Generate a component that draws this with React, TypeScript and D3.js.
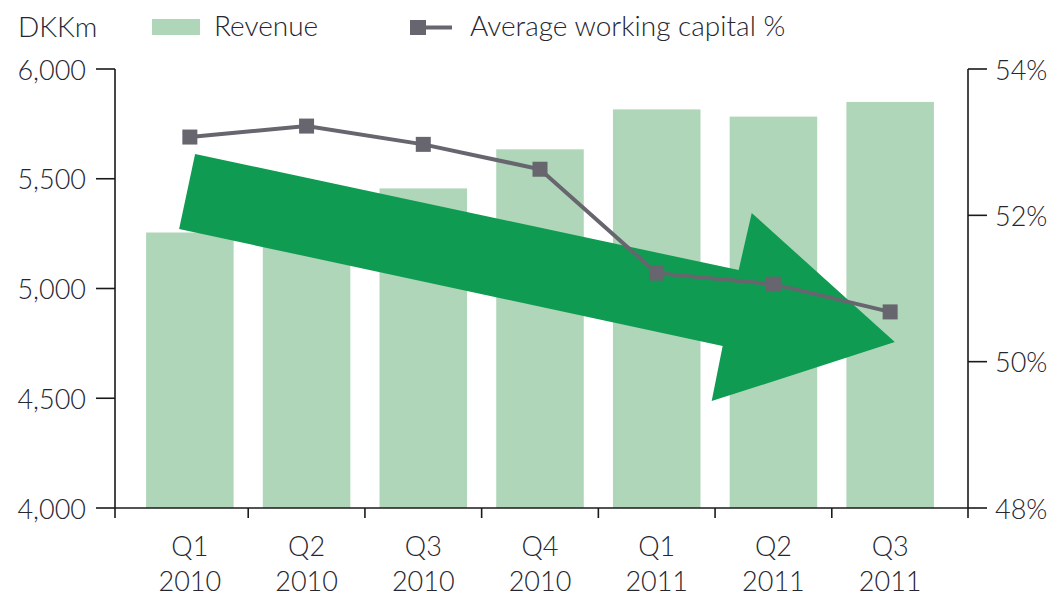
import React from "react";
import * as d3 from "d3";

const quarters = ["Q1", "Q2", "Q3", "Q4", "Q1", "Q2", "Q3"];
const years = ["2010", "2010", "2010", "2010", "2011", "2011", "2011"];
const revenue = [5255, 5360, 5456, 5634, 5816, 5783, 5850];
const workingCapitalPct = [53.07, 53.22, 52.97, 52.63, 51.21, 51.06, 50.68];
const leftTicks = [4000, 4500, 5000, 5500, 6000];
const rightTicks = [48, 50, 52, 54];
// Trend arrow annotation, in (category index, revenue) space
const arrowShape: [number, number][] = [
  [0.545, 5613], [5.202, 5084], [5.314, 5344], [6.54, 4756],
  [4.971, 4487], [5.065, 4738], [0.408, 5271],
];

const W = 1053, H = 596;
const axL = 115, axR = 968, yTop = 69, yBot = 508;
const catL = 131.5, catR = 948.5;
const textColor = "#262630";
const barColor = "#afd6b8";
const arrowColor = "#0f9c52";
const lineColor = "#67656e";
const font = "Lato, 'Open Sans', sans-serif";

export default function App() {
  const idx = quarters.map((_, i) => String(i));
  const x = d3.scaleBand<string>().domain(idx).range([catL, catR]).paddingInner(0.25).paddingOuter(0.125);
  const xi = d3.scaleLinear().domain([0, quarters.length]).range([catL, catR]);
  const yL = d3.scaleLinear().domain([4000, 6000]).range([yBot, yTop]);
  const yR = d3.scaleLinear().domain([48, 54]).range([yBot, yTop]);
  const fmt = d3.format(",");
  const line = d3.line<number>().x((_, i) => x(String(i))! + x.bandwidth() / 2).y((d) => yR(d));
  const arrowPath = d3.line<[number, number]>().x((d) => xi(d[0])).y((d) => yL(d[1]))(arrowShape) + "Z";
  const boundaries = d3.range(1, quarters.length).map((i) => xi(i));
  const ms = 15;

  return (
    <svg width={W} height={H} style={{ position: "absolute", left: 0, top: 0, background: "#fff" }} fontFamily={font} fontWeight={300}>
      {/* bars */}
      {revenue.map((v, i) => (
        <rect key={i} x={x(String(i))} y={yL(v)} width={x.bandwidth()} height={yBot - yL(v)} fill={barColor} />
      ))}
      {/* arrow */}
      <path d={arrowPath} fill={arrowColor} />
      {/* line */}
      <path d={line(workingCapitalPct)!} fill="none" stroke={lineColor} strokeWidth={4} />
      {workingCapitalPct.map((v, i) => (
        <rect key={i} x={x(String(i))! + x.bandwidth() / 2 - ms / 2} y={yR(v) - ms / 2} width={ms} height={ms} fill={lineColor} />
      ))}
      {/* axes */}
      <g stroke="#1a1a1a" strokeWidth={1.6} fill="none">
        <line x1={axL} y1={yTop} x2={axL} y2={yBot + 10} />
        <line x1={axR} y1={yTop} x2={axR} y2={yBot + 10} />
        <line x1={axL} y1={yBot} x2={axR} y2={yBot} />
        {leftTicks.map((t) => (
          <line key={t} x1={axL - 19} x2={axL} y1={yL(t)} y2={yL(t)} />
        ))}
        {rightTicks.map((t) => (
          <line key={t} x1={axR} x2={axR + 19} y1={yR(t)} y2={yR(t)} />
        ))}
        {boundaries.map((b, i) => (
          <line key={i} x1={b} x2={b} y1={yBot} y2={yBot + 10} />
        ))}
      </g>
      {/* tick labels */}
      <g fill={textColor} fontSize={27}>
        {leftTicks.map((t) => (
          <text key={t} x={axL - 29} y={yL(t)} textAnchor="end" dominantBaseline="central">{fmt(t)}</text>
        ))}
        {rightTicks.map((t) => (
          <text key={t} x={axR + 27} y={yR(t)} dominantBaseline="central">{t}%</text>
        ))}
        {quarters.map((q, i) => (
          <text key={i} x={x(String(i))! + x.bandwidth() / 2} y={556} textAnchor="middle">
            <tspan x={x(String(i))! + x.bandwidth() / 2}>{q}</tspan>
            <tspan x={x(String(i))! + x.bandwidth() / 2} dy={35}>{years[i]}</tspan>
          </text>
        ))}
      </g>
      {/* legend */}
      <g fill={textColor} fontSize={28}>
        <text x={18} y={37}>DKKm</text>
        <rect x={152} y={19} width={48} height={16} fill={barColor} />
        <text x={214} y={36}>Revenue</text>
        <line x1={418} x2={452} y1={27.5} y2={27.5} stroke={lineColor} strokeWidth={4} />
        <rect x={410} y={20} width={16} height={15} fill={lineColor} />
        <text x={470} y={36}>Average working capital %</text>
      </g>
    </svg>
  );
}
